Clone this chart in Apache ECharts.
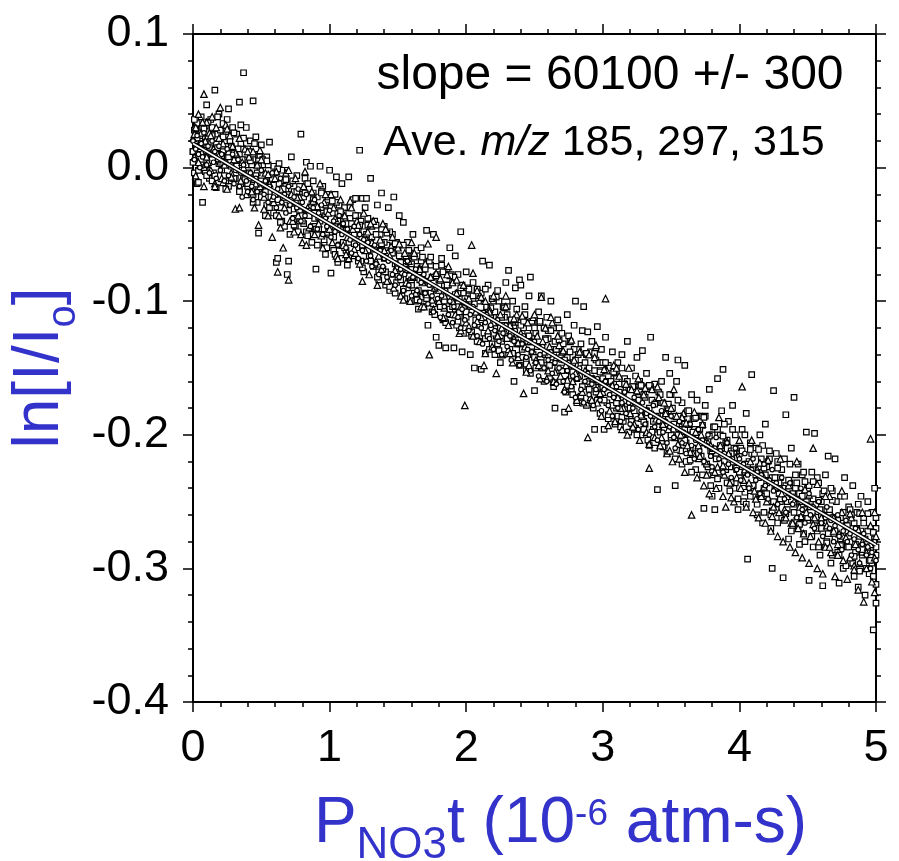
<!DOCTYPE html>
<html>
<head>
<meta charset="utf-8">
<script src="https://cdn.jsdelivr.net/npm/echarts@6/dist/echarts.min.js"></script>
<style>
html,body{margin:0;padding:0;background:#fff;}
#chart{width:899px;height:861px;}
</style>
</head>
<body>
<div id="chart"></div>
<script>
// Axis ranges / ticks
var xTicks = [0, 1, 2, 3, 4, 5];
var yTicks = [-0.4, -0.3, -0.2, -0.1, 0.0, 0.1];

// Fitted line (x, ln[I/Io])
var fitLine = [[0, 0.018], [5, -0.2825]];

// Scatter data. Units: x in 0.01 (x1e-6 atm-s), y in 0.001.
var squares = [
[0,12],[1,28],[1,-4],[2,20],[2,5],[3,33],[3,-12],[4,15],[4,-11],[5,24],[6,2],[6,38],[7,-26],[8,17],[9,31],[9,-3],[10,47],[10,8],
[11,22],[12,-8],[13,36],[13,10],[14,-10],[15,29],[16,58],[16,14],[17,-15],[18,25],[19,3],[19,40],
[20,18],[21,-2],[22,33],[22,12],[23,-6],[24,27],[25,8],[26,44],[26,-14],[27,20],[28,1],[29,30],
[30,12],[31,-8],[32,25],[33,4],[34,49],[34,-16],[35,18],[36,-3],[37,71],[37,22],[38,6],[39,-12],[39,30],
[40,14],[41,-4],[42,20],[43,-18],[44,50],[44,6],[45,-9],[46,23],[47,-26],[48,-49],[48,10],[49,-2],
[50,17],[51,-20],[52,2],[53,-36],[54,8],[55,-14],[56,19],[57,-8],[58,-30],[59,1],
[60,-4],[61,-71],[62,-24],[62,-68],[63,3],[64,-15],[65,-40],[66,-10],[67,-28],[68,-2],[69,-80],[69,-20],
[70,-70],[71,-12],[72,8],[73,-31],[74,-18],[75,-44],[76,-6],[77,-25],[78,-38],[79,25],[79,-14],
[80,-20],[81,-42],[82,-8],[83,4],[84,-32],[85,-16],[86,1],[86,-50],[87,-27],[88,-10],[89,-38],
[90,-76],[91,-22],[92,-46],[93,1],[94,-30],[95,-14],[96,-58],[97,-36],[97,-65],[98,-20],[99,-44],
[100,-2],[101,-79],[102,-34],[103,-52],[104,-20],[105,-7],[106,-71],[106,-40],[107,-28],[108,-58],[109,-12],
[110,-46],[111,-30],[112,-62],[113,-73],[114,-7],[115,-38],[116,-55],[117,-24],[118,-44],[119,-23],
[120,-60],[121,-36],[122,13],[123,-70],[124,-23],[125,-48],[126,-30],[127,-23],[128,-62],[129,-42],
[130,-8],[131,-52],[132,-74],[133,-40],[134,-60],[135,-28],[136,-84],[137,-50],[138,-19],[139,-66],
[140,-44],[141,-78],[142,-58],[143,-30],[144,-92],[145,-64],[146,-50],[147,-22],[148,-72],[149,-86],
[150,-60],[151,-36],[152,-84],[153,-68],[154,-41],[155,-98],[156,-74],[157,-56],[158,-88],[159,-64],
[160,-72],[161,-50],[162,-94],[163,-80],[164,-62],[165,-106],[166,-84],[167,-70],[168,-97],[169,-76],
[170,-86],[171,-47],[172,-118],[173,-96],[174,-73],[175,-108],[176,-50],[177,-90],[178,-127],[179,-80],[180,-133],
[181,-102],[182,-68],[183,-114],[184,-88],[185,-135],[186,-76],[187,-98],[188,-60],[189,-110],
[190,-86],[191,-135],[192,-66],[193,-104],[194,-80],[195,-120],[196,-48],[197,-138],[198,-94],[199,-112],
[200,-78],[201,-124],[202,-96],[203,-140],[204,-108],[205,-86],[206,-150],[207,-118],[208,-92],[209,-130],
[210,-98],[211,-151],[212,-70],[213,-124],[214,-139],[215,-106],[216,-88],[217,-73],[218,-120],[219,-132],
[220,-100],[221,-140],[222,-126],[223,-92],[224,-112],[225,-146],[226,-130],[227,-104],[228,-118],[229,-86],
[230,-110],[231,-77],[232,-136],[233,-124],[234,-100],[235,-160],[236,-90],[237,-132],[238,-116],[239,-84],
[240,-88],[241,-142],[242,-120],[243,-104],[244,-152],[245,-130],[246,-96],[247,-82],[248,-138],[249,-116],
[250,-167],[251,-124],[252,-146],[253,-108],[254,-134],[255,-96],[256,-150],[257,-120],[258,-140],[259,-112],
[260,-128],[261,-158],[262,-100],[263,-146],[264,-120],[265,-180],[266,-136],[267,-114],[268,-152],[269,-132],
[270,-124],[271,-160],[272,-183],[273,-140],[274,-110],[275,-152],[276,-130],[277,-166],[278,-146],[279,-118],
[280,-100],[281,-158],[282,-136],[283,-172],[284,-148],[285,-122],[286,-104],[287,-162],[288,-140],[289,-123],
[290,-150],[291,-176],[292,-130],[293,-163],[294,-196],[295,-144],[296,-119],[297,-170],[298,-152],[299,-136],
[300,-158],[301,-196],[302,-127],[303,-176],[304,-148],[305,-164],[306,-186],[307,-138],[308,-170],[309,-154],
[310,-180],[311,-146],[312,-162],[313,-194],[314,-140],[315,-172],[316,-158],[317,-186],[318,-130],[319,-166],
[320,-178],[321,-150],[322,-196],[323,-164],[324,-186],[325,-142],[326,-172],[327,-160],[328,-200],[329,-137],
[330,-170],[331,-192],[332,-154],[333,-182],[334,-208],[335,-127],[336,-174],[337,-196],[338,-162],[339,-186],
[340,-241],[341,-176],[342,-198],[343,-160],[344,-186],[345,-208],[346,-142],[347,-180],[348,-196],[349,-154],
[350,-170],[351,-200],[352,-186],[353,-238],[354,-160],[355,-144],[356,-196],[357,-212],[358,-176],[359,-190],
[360,-148],[361,-206],[362,-182],[363,-220],[364,-196],[365,-170],[366,-210],[367,-188],[368,-226],[369,-174],
[370,-200],[371,-186],[372,-216],[373,-193],[374,-255],[375,-178],[376,-222],[377,-204],[378,-166],[379,-212],
[380,-246],[381,-194],[382,-256],[383,-214],[384,-158],[385,-228],[386,-200],[387,-182],[388,-151],[389,-220],
[390,-206],[391,-236],[392,-190],[393,-224],[394,-212],[395,-178],[396,-240],[397,-200],[398,-226],[399,-256],
[400,-214],[401,-232],[402,-196],[403,-250],[404,-222],[405,-184],[406,-293],[407,-240],[408,-206],[409,-155],
[410,-226],[411,-246],[412,-210],[413,-260],[414,-232],[415,-200],[416,-218],[417,-266],[418,-240],[419,-192],
[420,-224],[421,-250],[422,-212],[423,-270],[424,-300],[425,-167],[426,-238],[427,-256],[428,-220],[429,-244],
[430,-232],[431,-262],[432,-307],[433,-218],[434,-185],[435,-250],[436,-278],[437,-236],[438,-210],[439,-268],
[440,-172],[441,-240],[442,-264],[443,-222],[444,-282],[445,-250],[446,-230],[447,-274],[448,-256],[449,-198],
[450,-240],[451,-309],[452,-262],[453,-228],[454,-284],[455,-199],[456,-252],[457,-272],[458,-236],[459,-290],
[460,-250],[461,-313],[462,-266],[463,-230],[464,-280],[465,-216],[466,-258],[467,-296],[468,-242],[469,-274],
[470,-218],[471,-262],[472,-288],[473,-311],[474,-246],[475,-276],[476,-300],[477,-232],[478,-268],[479,-284],
[480,-254],[481,-296],[482,-270],[483,-238],[484,-306],[485,-282],[486,-258],[487,-314],[488,-276],[489,-246],
[490,-290],[491,-266],[492,-320],[493,-284],[494,-250],[495,-304],[496,-270],[497,-296],[498,-346],[499,-278],[500,-262],[500,-312],[500,-326],[499,-240]
];

var squaresDense = [
[0,4],[1,36],[3,22],[4,-2],[5,14],[7,30],[8,0],[9,19],
[10,-6],[11,34],[12,15],[14,24],[15,-4],[17,18],[18,38],[19,10],
[20,28],[21,9],[23,20],[24,-10],[25,36],[27,4],[28,16],[29,-8],
[30,26],[31,6],[33,14],[34,-2],[35,32],[37,-8],[38,10],[39,2],
[40,-14],[41,12],[43,2],[44,-20],[45,18],[47,-4],[48,-16],[49,8],
[50,-10],[51,6],[53,-18],[54,-28],[55,2],[57,-22],[58,-6],[59,-34],
[60,-20],[61,-36],[63,-12],[64,-30],[65,-2],[67,-44],[68,-16],[69,-32],
[70,-22],[71,-50],[73,-10],[74,-38],[75,-26],[77,-48],[78,-14],[79,-34],
[80,-40],[81,-22],[83,-48],[84,-12],[85,-36],[87,-56],[88,-24],[89,-44],
[90,-30],[91,-58],[93,-40],[94,-18],[95,-50],[97,-28],[98,-60],[99,-22],
[100,-50],[101,-30],[103,-62],[104,-44],[105,-26],[107,-58],[108,-38],[109,-68],
[110,-34],[111,-60],[113,-42],[114,-56],[115,-30],[117,-66],[118,-50],[119,-36],
[120,-46],[121,-70],[123,-40],[124,-58],[125,-78],[127,-50],[128,-38],[129,-66],
[130,-56],[131,-44],[133,-72],[134,-50],[135,-82],[137,-62],[138,-46],[139,-76],
[140,-56],[141,-88],[143,-64],[144,-48],[145,-80],[147,-62],[148,-94],[149,-56],
[150,-82],[151,-66],[153,-96],[154,-58],[155,-76],[157,-90],[158,-62],[159,-84],
[160,-88],[161,-66],[163,-100],[164,-74],[165,-92],[167,-60],[168,-84],[169,-104],
[170,-76],[171,-98],[173,-70],[174,-94],[175,-82],[177,-110],[178,-74],[179,-92],
[180,-84],[181,-104],[183,-78],[184,-100],[185,-116],[187,-88],[188,-106],[189,-80],
[190,-100],[191,-82],[193,-118],[194,-94],[195,-108],[197,-88],[198,-124],[199,-98],
[200,-112],[201,-90],[203,-104],[204,-126],[205,-96],[207,-114],[208,-130],[209,-100],
[210,-118],[211,-94],[213,-112],[214,-128],[215,-104],[217,-136],[218,-110],[219,-98],
[220,-124],[221,-108],[223,-132],[224,-100],[225,-120],[227,-140],[228,-112],[229,-128],
[230,-104],[231,-128],[233,-114],[234,-142],[235,-120],[237,-106],[238,-132],[239,-148],
[240,-118],[241,-136],[243,-110],[244,-144],[245,-124],[247,-154],[248,-128],[249,-140],
[250,-120],[251,-150],[253,-134],[254,-116],[255,-146],[257,-160],[258,-128],[259,-144],
[260,-122],[261,-148],[263,-136],[264,-164],[265,-130],[267,-150],[268,-120],[269,-160],
[270,-150],[271,-132],[273,-168],[274,-142],[275,-126],[277,-156],[278,-170],[279,-136],
[280,-144],[281,-176],[283,-156],[284,-132],[285,-164],[287,-146],[288,-178],[289,-140],
[290,-160],[291,-138],[293,-180],[294,-152],[295,-168],[297,-146],[298,-184],[299,-162],
[300,-146],[301,-174],[303,-160],[304,-188],[305,-150],[307,-178],[308,-158],[309,-192],
[310,-158],[311,-186],[313,-166],[314,-150],[315,-190],[317,-176],[318,-160],[319,-198],
[320,-166],[321,-190],[323,-182],[324,-156],[325,-200],[327,-174],[328,-188],[329,-164],
[330,-196],[331,-172],[333,-204],[334,-180],[335,-164],[337,-190],[338,-210],[339,-176],
[340,-194],[341,-168],[343,-206],[344,-176],[345,-196],[347,-214],[348,-182],[349,-170],
[350,-202],[351,-180],[353,-218],[354,-192],[355,-174],[357,-204],[358,-222],[359,-186],
[360,-192],[361,-220],[363,-182],[364,-210],[365,-228],[367,-196],[368,-214],[369,-186],
[370,-218],[371,-196],[373,-230],[374,-206],[375,-186],[377,-224],[378,-200],[379,-238],
[380,-200],[381,-230],[383,-218],[384,-196],[385,-240],[387,-210],[388,-226],[389,-192],
[390,-226],[391,-204],[393,-242],[394,-214],[395,-196],[397,-236],[398,-210],[399,-248],
[400,-232],[401,-210],[403,-240],[404,-200],[405,-252],[407,-220],[408,-246],[409,-214],
[410,-238],[411,-214],[413,-252],[414,-224],[415,-244],[417,-208],[418,-258],[419,-230],
[420,-244],[421,-220],[423,-260],[424,-232],[425,-250],[427,-214],[428,-266],[429,-236],
[430,-250],[431,-226],[433,-264],[434,-238],[435,-256],[437,-222],[438,-272],[439,-244],
[440,-258],[441,-230],[443,-270],[444,-244],[445,-262],[447,-228],[448,-280],[449,-250],
[450,-264],[451,-238],[453,-276],[454,-248],[455,-268],[457,-232],[458,-284],[459,-256],
[460,-270],[461,-244],[463,-284],[464,-256],[465,-274],[467,-240],[468,-290],[469,-262],
[470,-278],[471,-250],[473,-290],[474,-262],[475,-282],[477,-246],[478,-298],[479,-268],
[480,-284],[481,-256],[483,-296],[484,-266],[485,-288],[487,-252],[488,-302],[489,-272],
[490,-288],[491,-262],[493,-300],[494,-272],[495,-294],[497,-258],[498,-306],[499,-278],[500,-290],[500,-270]
];

var squaresNearLine = [
[0,12],[2,29],[4,-2],[6,18],[8,29],[10,2],[12,11],[14,30],[16,-6],[18,15],[20,4],[22,23],[24,-16],[26,8],[28,15],[30,-8],[32,1],[34,-18],[36,6],[38,-9],
[40,-12],[42,5],[44,-26],[46,-6],[48,5],[50,-22],[52,-13],[54,5],[56,-30],[58,-9],[60,-20],[62,-1],[64,-41],[66,-16],[68,-9],[70,-32],[72,-23],[74,-43],[76,-18],[78,-33],
[80,-36],[82,-19],[84,-51],[86,-30],[88,-19],[90,-46],[92,-37],[94,-19],[96,-54],[98,-33],[100,-44],[102,-25],[104,-65],[106,-40],[108,-33],[110,-56],[112,-47],[114,-67],[116,-42],[118,-57],
[120,-60],[122,-43],[124,-75],[126,-54],[128,-43],[130,-70],[132,-61],[134,-43],[136,-78],[138,-57],[140,-68],[142,-49],[144,-89],[146,-64],[148,-57],[150,-80],[152,-71],[154,-91],[156,-66],[158,-81],
[160,-84],[162,-67],[164,-99],[166,-78],[168,-67],[170,-94],[172,-85],[174,-67],[176,-102],[178,-81],[180,-92],[182,-73],[184,-113],[186,-88],[188,-81],[190,-104],[192,-95],[194,-115],[196,-90],[198,-105],
[200,-108],[202,-91],[204,-123],[206,-102],[208,-91],[210,-118],[212,-109],[214,-91],[216,-126],[218,-105],[220,-116],[222,-97],[224,-137],[226,-112],[228,-105],[230,-128],[232,-119],[234,-139],[236,-114],[238,-129],
[240,-132],[242,-115],[244,-147],[246,-126],[248,-115],[250,-142],[252,-134],[254,-115],[256,-150],[258,-129],[260,-140],[262,-122],[264,-161],[266,-136],[268,-129],[270,-152],[272,-144],[274,-163],[276,-138],[278,-153],
[280,-156],[282,-140],[284,-171],[286,-150],[288,-139],[290,-166],[292,-158],[294,-139],[296,-174],[298,-153],[300,-164],[302,-146],[304,-185],[306,-160],[308,-153],[310,-176],[312,-168],[314,-187],[316,-162],[318,-177],
[320,-180],[322,-164],[324,-195],[326,-174],[328,-163],[330,-190],[332,-182],[334,-163],[336,-198],[338,-177],[340,-188],[342,-170],[344,-209],[346,-184],[348,-177],[350,-200],[352,-192],[354,-211],[356,-186],[358,-201],
[360,-204],[362,-188],[364,-219],[366,-198],[368,-187],[370,-214],[372,-206],[374,-187],[376,-222],[378,-201],[380,-212],[382,-194],[384,-233],[386,-208],[388,-201],[390,-224],[392,-216],[394,-235],[396,-210],[398,-225],
[400,-228],[402,-212],[404,-243],[406,-222],[408,-211],[410,-238],[412,-230],[414,-211],[416,-246],[418,-225],[420,-236],[422,-218],[424,-257],[426,-232],[428,-225],[430,-248],[432,-240],[434,-259],[436,-234],[438,-249],
[440,-252],[442,-236],[444,-267],[446,-246],[448,-235],[450,-262],[452,-254],[454,-235],[456,-270],[458,-249],[460,-260],[462,-242],[464,-281],[466,-256],[468,-249],[470,-272],[472,-264],[474,-283],[476,-258],[478,-273],
[480,-276],[482,-260],[484,-291],[486,-270],[488,-259],[490,-286],[492,-278],[494,-259],[496,-294],[498,-273],[500,-284]
];

var triangles = [
[0,22],[1,8],[2,-6],[2,30],[3,16],[4,40],[5,2],[6,26],[7,12],[8,55],[8,-14],[9,20],[10,34],[11,4],[12,26],[13,-2],[14,38],[15,14],[16,-12],[17,30],[18,6],[19,22],[20,45],[21,-8],[22,18],[23,2],[24,32],[25,-16],[26,12],[27,24],[28,-4],[29,16],[30,6],
[31,-31],[32,10],[34,22],[35,-10],[36,4],[38,14],[39,-20],[41,8],[42,-4],[44,12],[45,-30],[47,2],[48,-43],[49,-14],[50,6],[52,-22],[53,-4],[55,-36],[56,-12],[58,-52],[59,-26],[60,-8],
[62,-78],[63,-36],[64,-16],[66,-60],[67,-30],[68,-4],[70,-84],[71,-40],[72,-20],[74,-48],[75,-8],[77,-36],[78,-22],[80,-56],[81,-14],[83,-58],[84,-30],[86,-44],[87,-18],[89,-50],[90,-28],[92,-42],[93,-12],[95,-60],[96,-26],[98,-48],[99,-34],
[101,-20],[102,-56],[104,-38],[105,-66],[107,-44],[108,-24],[110,-58],[111,-36],[113,-52],[114,-68],[116,-30],[117,-46],[119,-64],[120,-40],[122,-72],[123,-52],[125,-34],[126,-62],[128,-48],[129,-80],[131,-56],[132,-40],[134,-70],[135,-88],[137,-54],[138,-76],[140,-62],[141,-46],[143,-84],[144,-66],[146,-52],[147,-90],[149,-74],[150,-60],
[152,-96],[153,-78],[155,-64],[156,-86],[158,-70],[159,-100],[161,-82],[162,-64],[164,-92],[165,-76],[167,-104],[168,-86],[170,-72],[171,-95],[173,-140],[174,-82],[176,-106],[177,-90],[178,-52],[180,-100],[181,-84],[183,-112],[184,-96],[186,-80],[187,-118],[189,-98],[190,-86],[192,-110],[193,-94],[195,-124],[196,-104],[198,-88],[199,-178],[200,-116],
[202,-98],[204,-58],[205,-126],[207,-108],[208,-92],[210,-130],[211,-112],[213,-148],[214,-100],[216,-122],[217,-106],[219,-134],[220,-116],[222,-154],[223,-126],[225,-110],[226,-140],[228,-122],[229,-104],[231,-136],[232,-118],[234,-146],[235,-128],[237,-110],[238,-142],[240,-124],[242,-169],[243,-134],[245,-116],[246,-148],[248,-130],[249,-112],
[251,-144],[252,-126],[254,-158],[255,-97],[257,-138],[258,-120],[260,-152],[261,-134],[263,-116],[264,-160],[266,-142],[267,-126],[269,-156],[270,-138],[272,-166],[273,-148],[275,-180],[276,-130],[278,-160],[279,-144],[281,-174],[282,-156],[284,-138],[285,-168],[287,-152],[289,-202],[290,-140],[291,-172],[293,-158],[294,-142],[296,-176],[297,-160],[299,-186],[300,-168],
[302,-98],[303,-152],[305,-182],[306,-164],[308,-148],[309,-190],[311,-172],[312,-156],[314,-196],[315,-180],[317,-162],[318,-200],[320,-184],[321,-166],[323,-192],[324,-176],[326,-158],[327,-204],[329,-186],[330,-170],[332,-198],[333,-182],[334,-225],[336,-166],[338,-202],[339,-188],[341,-172],[342,-208],[344,-192],[345,-176],[347,-214],[348,-196],[350,-180],
[351,-220],[353,-202],[354,-186],[356,-218],[357,-200],[359,-184],[360,-228],[362,-208],[363,-192],[365,-260],[366,-214],[368,-198],[369,-232],[371,-216],[372,-200],[374,-238],[375,-220],[377,-206],[378,-244],[380,-226],[381,-210],[383,-240],[384,-224],[386,-208],[388,-246],[389,-230],[390,-254],[392,-214],[393,-236],[395,-220],[396,-250],[398,-232],[399,-216],
[401,-240],[402,-164],[404,-226],[405,-254],[407,-236],[408,-220],[410,-258],[411,-242],[413,-226],[414,-262],[416,-246],[417,-230],[419,-266],[420,-250],[422,-234],[423,-272],[425,-254],[426,-240],[428,-276],[429,-258],[431,-244],[432,-280],[434,-262],[435,-246],[437,-284],[438,-266],[440,-250],[441,-288],[443,-270],[444,-254],[446,-292],[447,-274],[449,-258],
[451,-296],[452,-276],[454,-210],[455,-262],[457,-300],[458,-280],[460,-264],[461,-304],[463,-284],[464,-268],[466,-246],[467,-288],[469,-272],[470,-306],[472,-290],[473,-274],[475,-258],[476,-294],[478,-278],[479,-308],[481,-292],[482,-262],[484,-298],[485,-282],[487,-316],[488,-296],[490,-280],[491,-325],[493,-300],[494,-284],[496,-268],[497,-310],[499,-292],[500,-276],[496,-203],[499,-318]
];

var trianglesDense = [
[1,25],[4,4],[7,34],[10,8],[13,24],[16,-14],[19,9],[22,-11],[25,29],[28,-7],[31,11],[34,-30],[37,0],[40,12],[43,-18],[46,-12],[49,13],[52,-31],[55,-5],[58,-23],
[61,-3],[64,-45],[67,-22],[70,-2],[73,-40],[76,-22],[79,-50],[82,-3],[85,-45],[88,-25],[91,-29],[94,-51],[97,-20],[100,-46],[103,-30],[106,-68],[109,-46],[112,-65],[115,-25],[118,-61],
[121,-43],[124,-85],[127,-54],[130,-42],[133,-72],[136,-66],[139,-42],[142,-85],[145,-59],[148,-77],[151,-57],[154,-99],[157,-76],[160,-56],[163,-94],[166,-76],[169,-104],[172,-57],[175,-99],[178,-79],
[181,-83],[184,-105],[187,-74],[190,-100],[193,-84],[196,-122],[199,-100],[202,-119],[205,-79],[208,-115],[211,-97],[214,-139],[217,-108],[220,-96],[223,-126],[226,-120],[229,-96],[232,-139],[235,-113],[238,-131],
[241,-111],[244,-153],[247,-130],[250,-110],[253,-148],[256,-130],[259,-158],[262,-112],[265,-153],[268,-133],[271,-137],[274,-159],[277,-129],[280,-154],[283,-138],[286,-176],[289,-154],[292,-174],[295,-133],[298,-169],
[301,-151],[304,-193],[307,-163],[310,-150],[313,-180],[316,-174],[319,-150],[322,-194],[325,-167],[328,-185],[331,-165],[334,-207],[337,-185],[340,-164],[343,-202],[346,-184],[349,-212],[352,-166],[355,-207],[358,-187],
[361,-191],[364,-213],[367,-183],[370,-208],[373,-192],[376,-230],[379,-208],[382,-228],[385,-187],[388,-223],[391,-205],[394,-247],[397,-217],[400,-204],[403,-234],[406,-228],[409,-204],[412,-248],[415,-221],[418,-239],
[421,-219],[424,-261],[427,-239],[430,-218],[433,-256],[436,-238],[439,-266],[442,-220],[445,-261],[448,-241],[451,-245],[454,-267],[457,-237],[460,-262],[463,-246],[466,-284],[469,-262],[472,-282],[475,-242],[478,-277],
[481,-259],[484,-301],[487,-271],[490,-258],[493,-288],[496,-282],[499,-258]
];

var circles = [
[0,20],[1,6],[2,14],[3,24],[4,10],[5,0],[6,18],[7,8],[8,26],[9,12],[10,2],[11,16],[12,-4],[13,10],[14,20],[15,4],[16,12],[17,-8],[18,6],[19,16],[20,-2],[21,10],[23,-10],[24,4],[25,14],[26,-6],[28,2],[29,10],[30,-12],[31,-2],[33,6],[34,-14],[35,-4],[36,-22],[37,2],[39,-10],[40,-18],[42,-4],[43,-14],[44,-24],[46,-8],[47,-18],[49,-12],[50,-2],
[52,-20],[53,-10],[55,-26],[56,-14],[58,-4],[59,-22],[61,-30],[62,-16],[64,-8],[65,-26],[67,-20],[68,-34],[70,-14],[71,-28],[73,-38],[74,-22],[76,-30],[77,-16],[79,-40],[80,-26],[82,-36],[83,-20],[85,-32],[86,-44],[88,-30],[89,-24],[91,-46],[92,-34],[94,-28],[95,-50],[97,-38],[98,-44],
[100,-32],[101,-52],[103,-40],[104,-48],[106,-58],[107,-36],[109,-50],[110,-42],[112,-60],[113,-46],[115,-54],[116,-64],[118,-44],[119,-58],[121,-68],[122,-50],[124,-62],[125,-54],[127,-70],[128,-56],[130,-66],[131,-74],[133,-58],[134,-72],[136,-80],[137,-62],[139,-74],[140,-68],[142,-82],[143,-70],[145,-62],[146,-80],[148,-88],[149,-72],
[151,-82],[152,-76],[154,-92],[155,-80],[157,-70],[158,-88],[160,-96],[161,-82],[163,-76],[164,-92],[166,-100],[167,-86],[169,-80],[170,-94],[172,-102],[173,-88],[175,-96],[176,-108],[178,-90],[179,-98],[181,-112],[182,-96],[184,-104],[185,-92],[187,-110],[188,-100],[190,-116],[191,-104],[193,-98],[194,-112],[196,-120],[197,-106],[199,-114],[200,-102],
[202,-122],[203,-110],[205,-104],[206,-118],[208,-126],[209,-112],[211,-120],[212,-132],[214,-116],[215,-110],[217,-128],[218,-118],[220,-136],[221,-122],[223,-114],[224,-130],[226,-140],[227,-124],[229,-118],[230,-134],[232,-126],[233,-144],[235,-130],[236,-122],[238,-140],[239,-148],[241,-132],[242,-126],[244,-142],[245,-136],[247,-152],[248,-138],[250,-130],
[251,-146],[253,-156],[254,-140],[256,-134],[257,-150],[259,-160],[260,-144],[262,-138],[263,-154],[265,-146],[266,-162],[268,-150],[269,-144],[271,-160],[272,-168],[274,-152],[275,-146],[277,-164],[278,-156],[280,-172],[281,-158],[283,-150],[284,-166],[286,-176],[287,-160],[289,-154],[290,-170],[292,-162],[293,-178],[295,-166],[296,-158],[298,-174],[299,-182],
[301,-166],[302,-160],[304,-178],[305,-170],[307,-186],[308,-172],[310,-164],[311,-180],[313,-190],[314,-176],[316,-168],[317,-184],[319,-176],[320,-192],[322,-180],[323,-172],[325,-188],[326,-196],[328,-182],[329,-176],[331,-192],[332,-184],[334,-200],[335,-186],[337,-178],[338,-194],[340,-204],[341,-190],[343,-182],[344,-198],[346,-190],[347,-206],[349,-194],[350,-186],
[352,-202],[353,-210],[355,-196],[356,-190],[358,-206],[359,-198],[361,-214],[362,-200],[364,-192],[365,-208],[367,-218],[368,-204],[370,-196],[371,-212],[373,-204],[374,-220],[376,-208],[377,-200],[379,-216],[380,-224],[382,-210],[383,-202],[385,-218],[386,-212],[388,-228],[389,-214],[391,-206],[392,-222],[394,-232],[395,-218],[397,-210],[398,-226],[400,-218],
[401,-234],[403,-222],[404,-214],[406,-230],[407,-240],[409,-226],[410,-218],[412,-234],[413,-228],[415,-244],[416,-230],[418,-222],[419,-238],[421,-248],[422,-234],[424,-226],[425,-242],[427,-236],[428,-252],[430,-240],[431,-232],[433,-248],[434,-258],[436,-244],[437,-236],[439,-252],[440,-246],[442,-262],[443,-248],[445,-240],[446,-256],[448,-266],[449,-252],
[451,-244],[452,-260],[454,-254],[455,-270],[457,-258],[458,-250],[460,-266],[461,-276],[463,-262],[464,-254],[466,-270],[467,-264],[469,-280],[470,-268],[472,-260],[473,-276],[475,-286],[476,-272],[478,-264],[479,-280],[481,-274],[482,-290],[484,-278],[485,-270],[487,-286],[488,-296],[490,-282],[491,-274],[493,-290],[494,-284],[496,-300],[497,-288],[499,-280],[500,-294]
];

function toXY(arr) { return arr.map(function (p) { return [p[0] / 100, p[1] / 1000]; }); }

var FONT = 'Liberation Sans, Arial, Helvetica, sans-serif';
var BLUE = '#3333cc';

var chart = echarts.init(document.getElementById('chart'), null, {renderer: 'canvas'});

function axisCommon(extra) {
  var base = {
    type: 'value',
    axisLine: {show: true, onZero: false, lineStyle: {color: '#000', width: 2}},
    axisTick: {show: true, inside: false, length: 10, lineStyle: {color: '#000', width: 1.5}},
    minorTick: {show: true, splitNumber: 5, length: 5, lineStyle: {color: '#000', width: 1.5}},
    splitLine: {show: false},
    minorSplitLine: {show: false}
  };
  for (var k in extra) base[k] = extra[k];
  return base;
}

var option = {
  animation: false,
  backgroundColor: '#fff',
  grid: {left: 193, right: 23, top: 34, bottom: 159, containLabel: false, outerBoundsMode: 'none'},
  xAxis: [
    axisCommon({
      position: 'bottom', min: xTicks[0], max: xTicks[xTicks.length - 1], interval: 1,
      axisLabel: {show: true, color: '#000', fontSize: 45, fontFamily: FONT, margin: 24},
      name: '{m|P}{s|NO3}{m|t (10}{u|-6}{m| atm-s)}',
      nameLocation: 'middle', nameGap: 78, nameMoveOverlap: false,
      nameTextStyle: {
        color: BLUE, fontFamily: FONT, fontSize: 64, padding: [0, 0, 0, 52],
        rich: {
          m: {fontSize: 64, color: BLUE, fontFamily: FONT},
          s: {fontSize: 44, color: BLUE, fontFamily: FONT, padding: [44, 0, 0, 0]},
          u: {fontSize: 37, color: BLUE, fontFamily: FONT, padding: [0, 0, 18, 0]}
        }
      }
    }),
    axisCommon({
      position: 'top', min: xTicks[0], max: xTicks[xTicks.length - 1], interval: 1,
      axisLabel: {show: false}
    })
  ],
  yAxis: [
    axisCommon({
      position: 'left', min: yTicks[0], max: yTicks[yTicks.length - 1], interval: 0.1,
      axisLabel: {
        show: true, color: '#000', fontSize: 45, fontFamily: FONT, margin: 24,
        formatter: function (v) { return Math.abs(v) < 1e-9 ? '0.0' : v.toFixed(1); }
      },
      name: '{m|ln[I/I}{s|o}{m|]}',
      nameLocation: 'middle', nameGap: 109, nameMoveOverlap: false,
      nameTextStyle: {
        color: BLUE, fontFamily: FONT, fontSize: 64,
        rich: {
          m: {fontSize: 64, color: BLUE, fontFamily: FONT},
          s: {fontSize: 40, color: BLUE, fontFamily: FONT, padding: [48, 0, 0, 0]}
        }
      }
    }),
    axisCommon({
      position: 'right', min: yTicks[0], max: yTicks[yTicks.length - 1], interval: 0.1,
      axisLabel: {show: false}
    })
  ],
  graphic: [
    {
      type: 'text', x: 610, y: 76, z: 100,
      style: {text: 'slope = 60100 +/- 300', fill: '#000', font: '48px ' + FONT, textAlign: 'center', textVerticalAlign: 'middle'}
    },
    {
      type: 'text', x: 604, y: 143, z: 100,
      style: {
        text: '{n|Ave. }{i|m/z}{n| 185, 297, 315}', textAlign: 'center', textVerticalAlign: 'middle',
        rich: {
          n: {fontSize: 43, fontFamily: FONT, fill: '#000', color: '#000'},
          i: {fontSize: 43, fontFamily: FONT, fontStyle: 'italic', fill: '#000', color: '#000'}
        }
      }
    }
  ],
  series: [
    {
      name: 'squares', type: 'scatter', data: toXY(squares.concat(squaresDense, squaresNearLine)), symbol: 'rect', symbolSize: 5.5,
      itemStyle: {color: '#fff', borderColor: '#000', borderWidth: 1.2, opacity: 1},
      emphasis: {disabled: true}, silent: true, z: 2, large: false
    },
    {
      name: 'triangles', type: 'scatter', data: toXY(triangles.concat(trianglesDense)), symbol: 'triangle', symbolSize: 6.5,
      itemStyle: {color: '#fff', borderColor: '#000', borderWidth: 1.2, opacity: 1},
      emphasis: {disabled: true}, silent: true, z: 3, large: false
    },
    {
      name: 'circles', type: 'scatter', data: toXY(circles), symbol: 'circle', symbolSize: 4.5,
      itemStyle: {color: '#fff', borderColor: '#000', borderWidth: 1.2, opacity: 1},
      emphasis: {disabled: true}, silent: true, z: 4, large: false
    },
    {
      name: 'fitOuter', type: 'line', data: fitLine, symbol: 'none', silent: true, z: 5,
      lineStyle: {color: '#000', width: 4}
    },
    {
      name: 'fitInner', type: 'line', data: fitLine, symbol: 'none', silent: true, z: 6,
      lineStyle: {color: '#fff', width: 1.6}
    }
  ]
};
chart.setOption(option);
</script>
</body>
</html>
